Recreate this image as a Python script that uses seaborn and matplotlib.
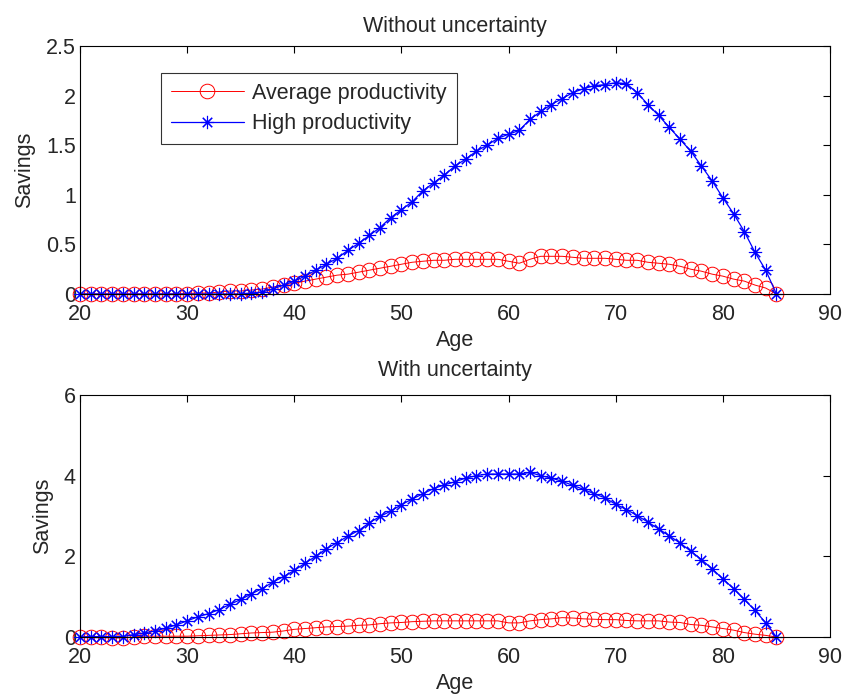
import numpy as np
import pandas as pd
import matplotlib
matplotlib.use("Agg")
import matplotlib.pyplot as plt
import seaborn as sns

ages = list(range(20, 86))

top_average = [0, 0, 0, 0, 0, 0, 0, 0, 0, 0, 0.005,
               0.01, 0.01, 0.02, 0.03, 0.03, 0.04, 0.05, 0.07, 0.09, 0.11,
               0.13, 0.15, 0.17, 0.19, 0.20, 0.22, 0.24, 0.26, 0.28, 0.30,
               0.32, 0.33, 0.34, 0.34, 0.35, 0.35, 0.35, 0.35, 0.35, 0.33,
               0.31, 0.35, 0.38, 0.38, 0.38, 0.37, 0.36, 0.36, 0.36, 0.35,
               0.34, 0.34, 0.32, 0.31, 0.30, 0.28, 0.25, 0.23, 0.20, 0.18,
               0.15, 0.13, 0.09, 0.06, 0.0]
top_high = [0, 0, 0, 0, 0, 0, 0, 0, 0, 0, 0, 0, 0, 0, 0, 0,
            0.01, 0.02, 0.05, 0.09, 0.13, 0.18, 0.24, 0.30, 0.36, 0.44,
            0.51, 0.59, 0.67, 0.77, 0.85, 0.93, 1.04, 1.12, 1.20, 1.29,
            1.36, 1.44, 1.50, 1.57, 1.61, 1.65, 1.76, 1.84, 1.91, 1.97,
            2.03, 2.07, 2.10, 2.11, 2.13, 2.12, 2.03, 1.91, 1.80, 1.68,
            1.56, 1.44, 1.29, 1.14, 0.97, 0.81, 0.63, 0.42, 0.24, 0.0]
bottom_average = [0, 0, -0.01, -0.02, -0.02, 0, 0.02, 0.02, 0.02, 0.02,
                  0.02, 0.03, 0.04, 0.05, 0.06, 0.08, 0.10, 0.11, 0.12, 0.15,
                  0.19, 0.21, 0.23, 0.25, 0.26, 0.27, 0.29, 0.30, 0.33, 0.35,
                  0.36, 0.38, 0.39, 0.40, 0.40, 0.40, 0.40, 0.40, 0.40, 0.40,
                  0.35, 0.35, 0.40, 0.43, 0.45, 0.48, 0.47, 0.45, 0.44, 0.43,
                  0.43, 0.41, 0.40, 0.40, 0.40, 0.37, 0.36, 0.31, 0.29, 0.25,
                  0.21, 0.17, 0.11, 0.07, 0.04, 0.0]
bottom_high = [0, 0.01, 0.01, 0.01, 0.01, 0.06, 0.10, 0.15, 0.22, 0.30,
               0.40, 0.50, 0.58, 0.68, 0.81, 0.93, 1.07, 1.20, 1.36, 1.50,
               1.65, 1.83, 2.00, 2.19, 2.34, 2.50, 2.64, 2.83, 2.99, 3.12,
               3.28, 3.42, 3.55, 3.68, 3.77, 3.85, 3.94, 4.00, 4.04, 4.04,
               4.04, 4.04, 4.08, 4.00, 3.94, 3.86, 3.76, 3.66, 3.55, 3.45,
               3.29, 3.16, 3.01, 2.85, 2.68, 2.51, 2.33, 2.13, 1.92, 1.69,
               1.44, 1.20, 0.93, 0.66, 0.35, 0.0]

series_names = ["Average productivity", "High productivity"]
titles = ["Without uncertainty", "With uncertainty"]
x_ticks = [20, 30, 40, 50, 60, 70, 80, 90]
top_yticks = [0, 0.5, 1, 1.5, 2, 2.5]
top_yticklabels = ["0", "0.5", "1", "1.5", "2", "2.5"]
bottom_yticks = [0, 2, 4, 6]

sns.set_style("white")
plt.rcParams["font.family"] = ["Liberation Sans", "DejaVu Sans"]

fig = plt.figure(figsize=(8.44, 6.94), dpi=100)
ax1 = fig.add_axes([80 / 844, 1 - 294 / 694, 750 / 844, 248 / 694])
ax2 = fig.add_axes([80 / 844, 1 - 637 / 694, 750 / 844, 242 / 694])

FS = 15.5

def draw(ax, avg, high, title, yticks, ylabels, ylim, title_pad):
    df = pd.DataFrame({"Age": ages, "avg": avg, "high": high})
    sns.lineplot(data=df, x="Age", y="avg", ax=ax, color="red", lw=0.7,
                 marker="o", markersize=10.5, markerfacecolor="none",
                 markeredgecolor="red", markeredgewidth=0.7,
                 label=series_names[0], estimator=None)
    sns.lineplot(data=df, x="Age", y="high", ax=ax, color="blue", lw=0.9,
                 marker=(8, 2, 0), markersize=9.5, markeredgecolor="blue",
                 markeredgewidth=0.8, label=series_names[1], estimator=None)
    ax.set_xlim(20, 90)
    ax.set_ylim(*ylim)
    ax.set_xticks(x_ticks)
    ax.set_xticklabels([str(t) for t in x_ticks], fontsize=FS)
    ax.set_yticks(yticks)
    ax.set_yticklabels(ylabels, fontsize=FS)
    ax.tick_params(axis="both", which="both", direction="in", length=5,
                   width=0.8, top=True, right=True, color="black")
    ax.tick_params(axis="x", pad=7)
    ax.tick_params(axis="y", pad=3)
    ax.set_xlabel("Age", fontsize=FS, labelpad=4)
    ax.set_ylabel("Savings", fontsize=FS, labelpad=8)
    ax.set_title(title, fontsize=FS, pad=title_pad)
    for s in ax.spines.values():
        s.set_visible(True)
        s.set_color("black")
        s.set_linewidth(0.8)
    for ln in ax.get_lines():
        ln.set_clip_on(False)

draw(ax1, top_average, top_high, titles[0], top_yticks, top_yticklabels, (0, 2.5), 10)
draw(ax2, bottom_average, bottom_high, titles[1], bottom_yticks,
     [str(t) for t in bottom_yticks], (0, 6), 14)

leg = ax1.legend(loc="upper left", bbox_to_anchor=((161 - 80) / 750, (294 - 73) / 248),
                 borderaxespad=0, fontsize=FS, frameon=True, fancybox=False,
                 edgecolor="black", handlelength=3.4, handletextpad=0.4,
                 borderpad=0.45, labelspacing=0.45)
leg.get_frame().set_linewidth(0.8)
if ax2.get_legend():
    ax2.get_legend().remove()

fig.savefig("out.png", dpi=100, facecolor="white")
